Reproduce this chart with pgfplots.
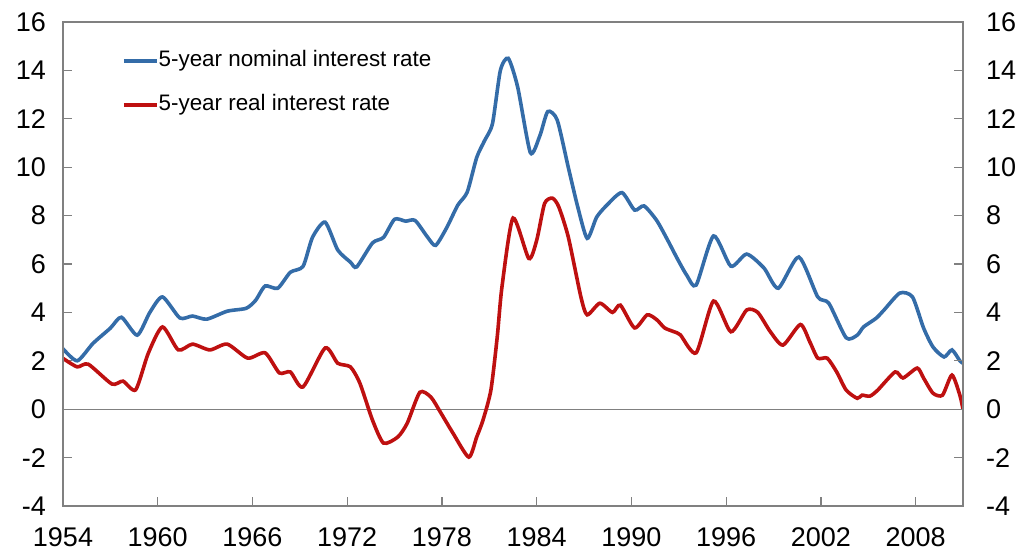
\documentclass[border=0pt]{standalone}
\usepackage{fontspec}
\setmainfont{Liberation Sans}
\usepackage{pgfplots}
\pgfplotsset{compat=1.18}
\usetikzlibrary{calc}
\definecolor{nomblue}{RGB}{52,108,168}
\definecolor{realred}{RGB}{190,16,16}
\definecolor{axgray}{RGB}{128,128,128}
\begin{document}
\begin{tikzpicture}
\pgfplotsset{
 common/.style={
  scale only axis, width=450pt, height=242pt,
  xmin=1954, xmax=2011, ymin=-4, ymax=16,
  axis line style={axgray, line width=0.6pt},
  tick style={axgray, line width=0.6pt},
  tick align=inside,
  major tick length=4.5pt,
  /pgf/number format/assume math mode=true,
  ticklabel style={font=\fontsize{13.5}{15}\selectfont},
  ytick={-4,-2,...,16},
 }}
\begin{axis}[common,
  xtick={1954,1960,...,2008},
  xticklabel style={/pgf/number format/1000 sep={}, yshift=-7.5pt},
  ytick pos=left, xtick pos=bottom,
  yticklabel style={xshift=-5pt},
  legend style={at={(0.0656,0.941)}, anchor=north west, draw=none, fill=none,
    inner sep=0pt, outer sep=0pt, row sep=11.5pt,
    nodes={inner sep=0pt, text height=8pt, text depth=2.5pt, font=\fontsize{11.2}{13}\selectfont},
    /tikz/every even column/.append style={column sep=0pt}},
  legend cell align=left,
  legend image code/.code={\draw[#1, line width=1.8pt] (0pt,0pt) -- (16.5pt,0pt);},
]
\draw[axgray, line width=0.6pt] (axis cs:1954,0) -- (axis cs:2011,0);
\addplot[nomblue, line width=1.8pt, smooth, tension=0.4] coordinates {
(1954.0,2.5) (1954.9,2.0) (1955.9,2.72) (1957.0,3.35) (1957.7,3.8) (1958.7,3.06)
(1959.5,4.0) (1960.3,4.64) (1961.4,3.77) (1962.2,3.85) (1963.1,3.72) (1964.4,4.05)
(1965.6,4.17) (1966.2,4.5) (1966.8,5.09) (1967.6,5.0) (1968.4,5.66) (1969.2,5.9)
(1969.8,7.1) (1970.6,7.73) (1971.4,6.58) (1972.2,6.08) (1972.6,5.88) (1973.6,6.87)
(1974.3,7.1) (1975.0,7.85) (1975.7,7.77) (1976.3,7.8) (1977.1,7.1) (1977.6,6.77)
(1978.3,7.5) (1979.0,8.43) (1979.6,8.97) (1980.2,10.4) (1980.7,11.1) (1981.2,11.8)
(1981.7,14.0) (1982.2,14.5) (1982.8,13.3) (1983.6,10.6) (1984.2,11.3) (1984.7,12.3)
(1985.3,11.95) (1986.0,10.0) (1986.6,8.36) (1987.2,7.06) (1987.8,7.94) (1988.5,8.47)
(1989.4,8.95) (1990.2,8.23) (1990.8,8.4) (1991.6,7.8) (1992.3,6.98) (1992.9,6.23)
(1993.5,5.54) (1994.1,5.13) (1995.2,7.16) (1996.3,5.91) (1997.3,6.41) (1998.4,5.83)
(1999.3,5.0) (2000.6,6.29) (2001.8,4.64) (2002.5,4.38) (2003.6,2.95) (2004.3,3.06)
(2004.7,3.4) (2005.5,3.76) (2006.0,4.1) (2007.0,4.8) (2007.8,4.64) (2008.5,3.36)
(2009.1,2.57) (2009.8,2.16) (2010.3,2.45) (2010.8,2.0) (2011.0,1.9)
};
\addlegendentry{5-year nominal interest rate}
\addplot[realred, line width=1.8pt, smooth, tension=0.4] coordinates {
(1954.0,2.1) (1954.9,1.75) (1955.6,1.86) (1957.1,1.04) (1957.8,1.16) (1958.6,0.8)
(1959.4,2.31) (1960.3,3.4) (1961.3,2.45) (1962.2,2.69) (1963.3,2.45) (1964.4,2.69)
(1965.7,2.11) (1966.8,2.33) (1967.7,1.5) (1968.4,1.54) (1969.2,0.92) (1970.6,2.53)
(1971.4,1.9) (1972.2,1.75) (1972.8,1.08) (1973.6,-0.45) (1974.3,-1.4) (1975.2,-1.15)
(1975.8,-0.58) (1976.6,0.7) (1977.3,0.5) (1977.9,-0.12) (1978.7,-0.99) (1979.7,-1.98)
(1980.2,-1.15) (1980.6,-0.45) (1981.1,0.79) (1981.5,2.98) (1981.8,5.05) (1982.5,7.9)
(1983.5,6.23) (1984.0,6.98) (1984.5,8.5) (1985.0,8.72) (1985.4,8.36) (1986.0,7.12)
(1986.8,4.64) (1987.2,3.9) (1988.0,4.38) (1988.8,4.0) (1989.3,4.3) (1990.2,3.36)
(1991.0,3.9) (1991.6,3.7) (1992.1,3.36) (1992.7,3.2) (1993.1,3.07) (1994.1,2.33)
(1995.2,4.47) (1996.3,3.2) (1997.3,4.1) (1998.0,4.0) (1998.8,3.2) (1999.6,2.65)
(2000.7,3.5) (2001.3,2.78) (2001.8,2.11) (2002.4,2.11) (2003.0,1.54) (2003.6,0.79)
(2004.3,0.45) (2004.6,0.58) (2005.1,0.54) (2005.6,0.79) (2006.7,1.54) (2007.2,1.29)
(2008.1,1.7) (2008.5,1.29) (2009.1,0.66) (2009.7,0.58) (2010.3,1.41) (2010.8,0.58)
(2011.0,0.0)
};
\addlegendentry{5-year real interest rate}
\end{axis}
\begin{axis}[common,
  hide x axis,
  ytick pos=right, yticklabel pos=right,
  yticklabel style={xshift=8pt},
]
\end{axis}
\pgfresetboundingbox
\path ($(current axis.south west)+(-31.5pt,-23.5pt)$) rectangle ($(current axis.north east)+(32.5pt,11pt)$);
\end{tikzpicture}
\end{document}
